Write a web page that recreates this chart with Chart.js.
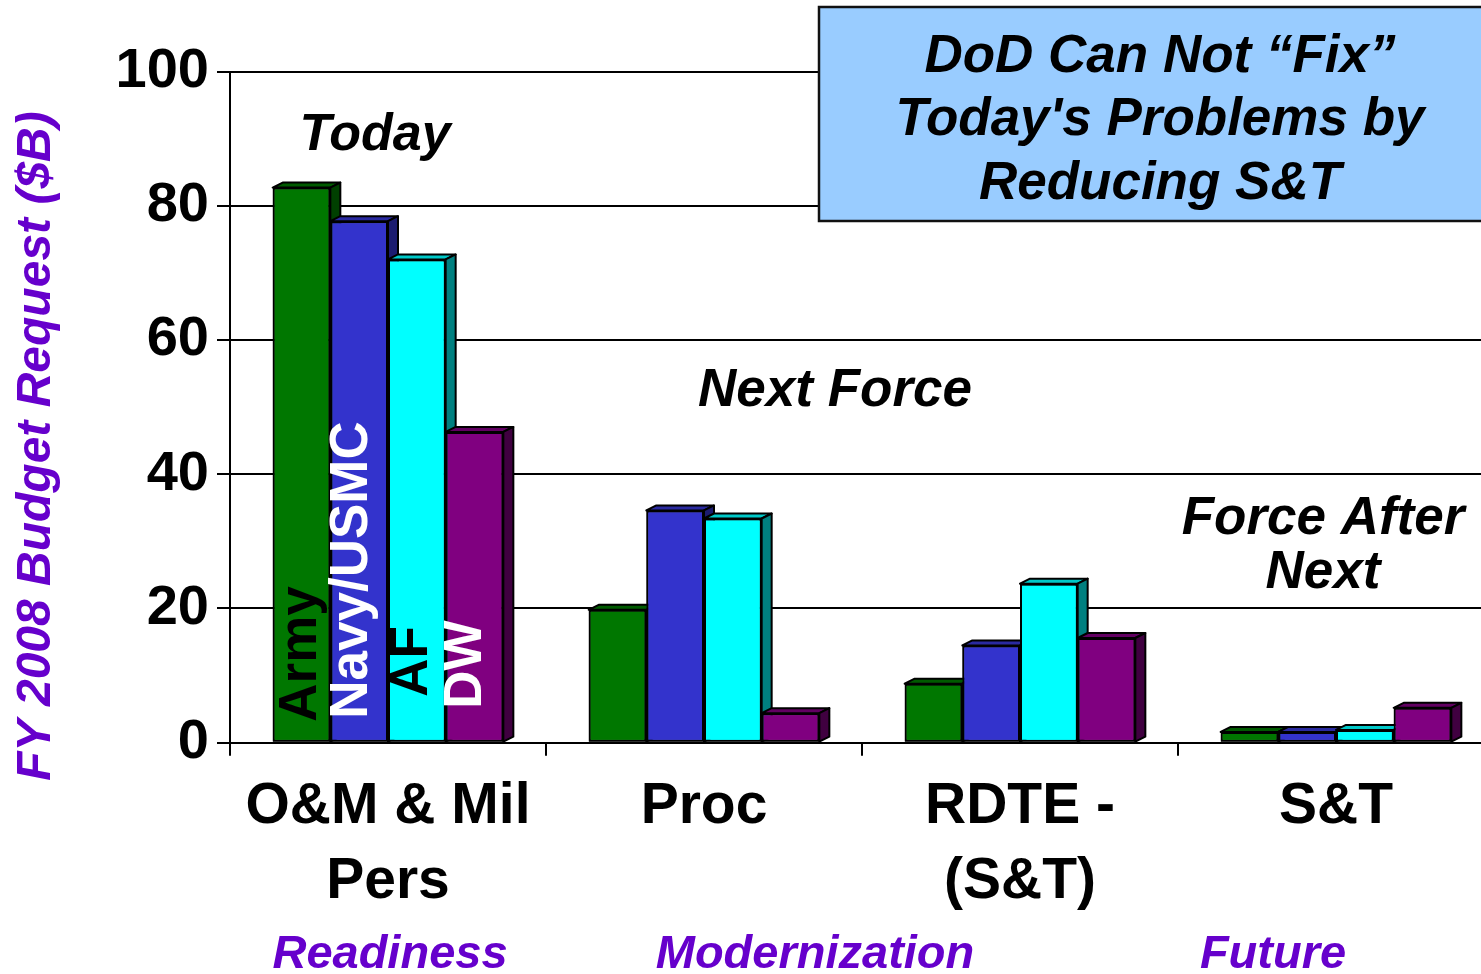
<!DOCTYPE html>
<html>
<head>
<meta charset="utf-8">
<script src="https://cdn.jsdelivr.net/npm/chart.js@4"></script>
<style>
  html, body { margin: 0; padding: 0; background: #fff; overflow: hidden; }
  canvas { display: block; }
</style>
</head>
<body>
<canvas id="myChart" width="1500" height="974"></canvas>
<script>
// valores ($B)
var categorias = [['O&M & Mil', 'Pers'], ['Proc'], ['RDTE -', '(S&T)'], ['S&T']];
var army = [82.7, 19.8, 8.8, 1.6];
var navy = [77.7, 34.6, 14.5, 1.6];
var af = [72.0, 33.4, 23.7, 1.9];
var dw = [46.3, 4.4, 15.6, 5.2];
var nomes = ['Army', 'Navy/USMC', 'AF', 'DW'];
var yTicks = [0, 20, 40, 60, 80, 100];

var corFrente = ['#007700', '#3333cc', '#00ffff', '#800080'];
var corTopo = ['#005a00', '#2a2aa0', '#00c8c8', '#620062'];
var corLado = ['#004000', '#1c1c70', '#008080', '#400040'];
var corTexto = ['#000', '#fff', '#000', '#fff'];

var FONTE = '"Liberation Sans", Arial, sans-serif';
var ROXO = '#6600cc';
var DX = 10, DY = 5;

// o Chart.js desenha os datasets do ultimo para o primeiro; aqui redesenha
// cada barra da esquerda para a direita, com topo e lateral (efeito 3D)
var profundidade = {
    id: 'profundidade',
    afterDatasetsDraw: function (chart) {
        var ctx = chart.ctx;
        for (var i = 0; i < chart.data.datasets.length; i++) {
            var meta = chart.getDatasetMeta(i);
            meta.data.forEach(function (bar) {
                bar.draw(ctx, chart.chartArea);
                var p = bar.getProps(['x', 'y', 'base', 'width'], true);
                var l = p.x - p.width / 2, r = p.x + p.width / 2;
                ctx.save();
                ctx.lineWidth = 2;
                ctx.strokeStyle = '#000';
                ctx.lineJoin = 'round';
                ctx.beginPath();
                ctx.moveTo(l, p.y); ctx.lineTo(l + DX, p.y - DY); ctx.lineTo(r + DX, p.y - DY); ctx.lineTo(r, p.y);
                ctx.closePath();
                ctx.fillStyle = corTopo[i]; ctx.fill(); ctx.stroke();
                ctx.beginPath();
                ctx.moveTo(r, p.y); ctx.lineTo(r + DX, p.y - DY); ctx.lineTo(r + DX, p.base - DY); ctx.lineTo(r, p.base);
                ctx.closePath();
                ctx.fillStyle = corLado[i]; ctx.fill(); ctx.stroke();
                ctx.restore();
            });
        }
        // nomes verticais dentro das barras do primeiro grupo
        for (var j = 0; j < nomes.length; j++) {
            var b = chart.getDatasetMeta(j).data[0].getProps(['x', 'base'], true);
            ctx.save();
            ctx.translate(b.x + deslocNome[j][0], b.base - deslocNome[j][1]);
            ctx.rotate(-Math.PI / 2);
            ctx.font = 'bold 53px ' + FONTE;
            ctx.fillStyle = corTexto[j];
            ctx.textAlign = 'left';
            ctx.textBaseline = 'alphabetic';
            ctx.fillText(nomes[j], 0, 0);
            ctx.restore();
        }
    }
};
var deslocNome = [[15, 20], [8, 23], [10, 45], [6, 33]];

function texto(ctx, t, x, y, font, cor) {
    ctx.font = font;
    ctx.fillStyle = cor;
    ctx.textAlign = 'center';
    ctx.textBaseline = 'alphabetic';
    ctx.fillText(t, x, y);
}

var anotacoes = {
    id: 'anotacoes',
    afterDraw: function (chart) {
        var ctx = chart.ctx;
        ctx.save();
        // caixa azul
        ctx.fillStyle = '#99ccff';
        ctx.fillRect(819, 7, 700, 214);
        ctx.lineWidth = 2.5;
        ctx.strokeStyle = '#111';
        ctx.strokeRect(819, 7, 700, 214);
        var fb = 'italic bold 53px ' + FONTE;
        texto(ctx, 'DoD Can Not \u201cFix\u201d', 1160, 72, fb, '#000');
        texto(ctx, "Today's Problems by", 1160, 135, fb, '#000');
        texto(ctx, 'Reducing S&T', 1160, 199, fb, '#000');

        texto(ctx, 'Today', 375, 150, 'italic bold 52px ' + FONTE, '#000');
        texto(ctx, 'Next Force', 835, 406, 'italic bold 53px ' + FONTE, '#000');
        texto(ctx, 'Force After', 1323, 534, 'italic bold 53px ' + FONTE, '#000');
        texto(ctx, 'Next', 1323, 588, 'italic bold 53px ' + FONTE, '#000');

        var fr = 'italic bold 47px ' + FONTE;
        texto(ctx, 'Readiness', 390, 968, fr, ROXO);
        texto(ctx, 'Modernization', 815, 968, fr, ROXO);
        texto(ctx, 'Future', 1273, 968, fr, ROXO);

        // titulo do eixo y
        ctx.translate(50, 446);
        ctx.rotate(-Math.PI / 2);
        texto(ctx, 'FY 2008 Budget Request ($B)', 0, 0, 'italic bold 48px ' + FONTE, ROXO);
        ctx.restore();
    }
};

const ctx = document.getElementById('myChart');

new Chart(ctx, {
    type: 'bar',
    data: {
        labels: categorias,
        datasets: [army, navy, af, dw].map(function (d, i) {
            return {
                label: nomes[i],
                data: d,
                backgroundColor: corFrente[i],
                borderColor: '#000',
                borderWidth: 2,
                borderSkipped: false
            };
        })
    },
    plugins: [profundidade, anotacoes],
    options: {
        responsive: false,
        animation: false,
        devicePixelRatio: 1,
        layout: { padding: { top: 71.5, right: 6, left: 0, bottom: 0 } },
        plugins: { legend: { display: false }, tooltip: { enabled: false } },
        datasets: { bar: { categoryPercentage: 0.73, barPercentage: 1 } },
        scales: {
            x: {
                offset: true,
                grid: { offset: true, drawOnChartArea: false, drawTicks: true, tickLength: 13, color: '#000', lineWidth: 2 },
                border: { display: true, color: '#000', width: 2 },
                ticks: {
                    color: '#000', padding: 14, maxRotation: 0, autoSkip: false,
                    font: { family: FONTE, size: 57, weight: 'bold', lineHeight: 1.32 }
                },
                afterFit: function (s) { s.height = 231.3; }
            },
            y: {
                min: 0, max: 100,
                afterBuildTicks: function (s) { s.ticks = yTicks.map(function (v) { return { value: v }; }); },
                grid: { color: '#000', lineWidth: 2, tickLength: 13 },
                border: { display: true, color: '#000', width: 2 },
                ticks: {
                    color: '#000', padding: 8,
                    font: { family: FONTE, size: 56, weight: 'bold' }
                },
                afterFit: function (s) { s.width = 230; }
            }
        }
    }
});
</script>
</body>
</html>
